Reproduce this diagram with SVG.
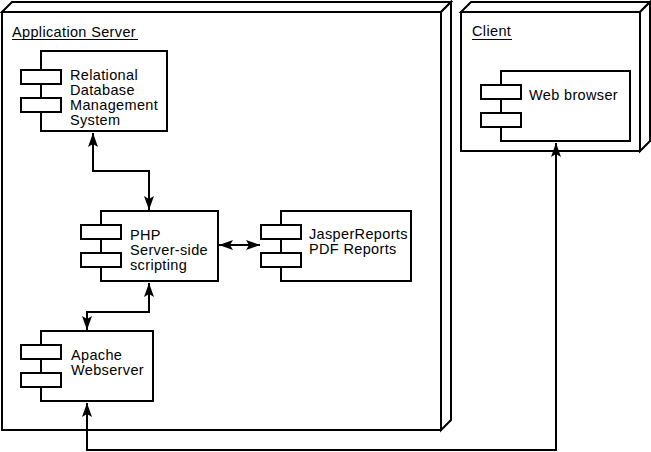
<svg xmlns="http://www.w3.org/2000/svg" width="651" height="452" viewBox="0 0 651 452">
<defs>
<style>
.n{fill:#fff;stroke:#000;stroke-width:2}
.c{fill:#fff;stroke:#000;stroke-width:2}
.t{font-family:"Liberation Sans",Arial,sans-serif;font-size:14.5px;letter-spacing:0.35px;fill:#000}
.u{stroke:#000;stroke-width:1}
.e{fill:none;stroke:#000;stroke-width:2}
</style>
<marker id="ah" viewBox="-1 -6 16 12" markerWidth="16" markerHeight="12" refX="14" refY="0" orient="auto-start-reverse" markerUnits="userSpaceOnUse">
<path d="M14,0 L0,-5 L3,0 L0,5 Z" fill="#000"/>
</marker>
</defs>
<rect width="651" height="452" fill="#fff"/>
<g id="app-server">
<polygon class="n" points="2,12 12,2 451,2 441,12"/>
<polygon class="n" points="441,12 451,2 451,420 441,430"/>
<rect class="n" x="2" y="12" width="439" height="418"/>
<text class="t" x="12" y="36.5">Application Server</text>
<line class="u" x1="12" y1="39.5" x2="138" y2="39.5"/>
</g>
<g id="client">
<polygon class="n" points="461,12 471,2 650,2 640,12"/>
<polygon class="n" points="640,12 650,2 650,141 640,151"/>
<rect class="n" x="461" y="12" width="179" height="139"/>
<text class="t" x="472" y="36">Client</text>
<line class="u" x1="472" y1="39.5" x2="512" y2="39.5"/>
</g>
<g id="rdbms">
<rect class="c" x="41" y="51" width="126" height="80"/>
<rect class="c" x="21" y="70" width="40" height="14"/>
<rect class="c" x="21" y="98" width="40" height="14"/>
<text class="t" x="70" y="79.5">Relational</text>
<text class="t" x="70" y="94.5">Database</text>
<text class="t" x="70" y="109.5">Management</text>
<text class="t" x="70" y="124.5">System</text>
</g>
<g id="php">
<rect class="c" x="101" y="211" width="117" height="70"/>
<rect class="c" x="81" y="225" width="40" height="14"/>
<rect class="c" x="81" y="253" width="40" height="14"/>
<text class="t" x="130" y="239.5">PHP</text>
<text class="t" x="130" y="254.5">Server-side</text>
<text class="t" x="130" y="269.5">scripting</text>
</g>
<g id="jasper">
<rect class="c" x="281" y="211" width="130" height="70"/>
<rect class="c" x="261" y="225" width="40" height="14"/>
<rect class="c" x="261" y="253" width="40" height="14"/>
<text class="t" x="309" y="238.5">JasperReports</text>
<text class="t" x="309" y="253.5">PDF Reports</text>
</g>
<g id="apache">
<rect class="c" x="41" y="331" width="112" height="70"/>
<rect class="c" x="21" y="345" width="40" height="14"/>
<rect class="c" x="21" y="373" width="40" height="14"/>
<text class="t" x="71" y="359.5">Apache</text>
<text class="t" x="71" y="374.5">Webserver</text>
</g>
<g id="web-browser">
<rect class="c" x="501" y="71" width="129" height="70"/>
<rect class="c" x="481" y="85" width="40" height="14"/>
<rect class="c" x="481" y="113" width="40" height="14"/>
<text class="t" x="529" y="99.5">Web browser</text>
</g>
<g id="connectors">
<path class="e" d="M93,133 V171 H149 V210" marker-start="url(#ah)" marker-end="url(#ah)"/>
<path class="e" d="M219,245 H260" marker-start="url(#ah)" marker-end="url(#ah)"/>
<path class="e" d="M149,283 V312 H87 V330" marker-start="url(#ah)" marker-end="url(#ah)"/>
<path class="e" d="M87,403 V450 H556 V143" marker-start="url(#ah)" marker-end="url(#ah)"/>
</g>
</svg>
